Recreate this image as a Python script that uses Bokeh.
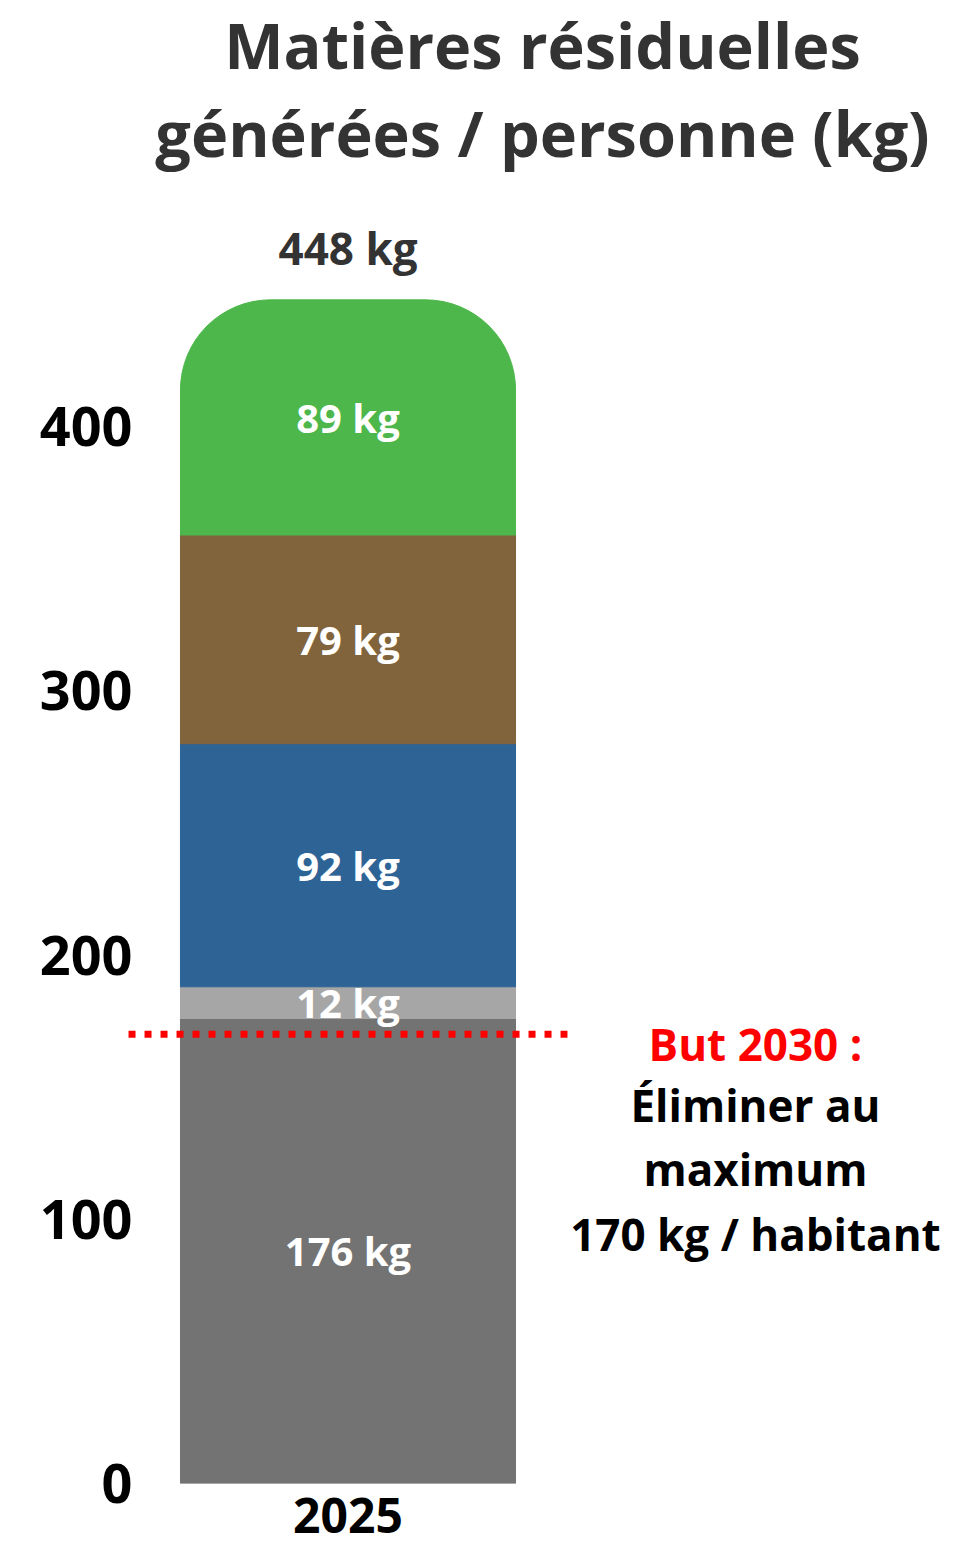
import numpy as np
from bokeh.plotting import figure
from bokeh.models import Range1d, FixedTicker, ColumnDataSource, Title
from bokeh.embed import file_html
from bokeh.resources import INLINE
from bokeh.core.properties import value

# ---- data ----
years = ["2025"]
categories = ["Ordures ménagères", "Encombrants", "Recyclage", "Matières organiques", "Résidus verts"]
values_kg = [176, 12, 92, 79, 89]
colors = ["#737373", "#a6a6a6", "#2e6396", "#82643c", "#4db74b"]
y_ticks = [0, 100, 200, 300, 400]
goal_kg = 170
goal_title = "But 2030 :"
goal_text = "Éliminer au\nmaximum\n170 kg / habitant"
title_lines = ["Matières résiduelles", "générées / personne (kg)"]

# ---- style ----
FONT = "Open Sans"
GOAL_HALF_SPAN = 0.655   # dotted line half length, in bar widths
NOTE_X = 1.216           # annotation centre, in bar widths from bar centre
Y_END = 494.3

tops = list(np.cumsum(values_kg))
bottoms = [t - v for t, v in zip(tops, values_kg)]
total = int(tops[-1])
labels = [f"{v} kg" for v in values_kg]
mids = [(b + t) / 2 for b, t in zip(bottoms, tops)]

src_low = ColumnDataSource(dict(x=[0] * 4, bottom=bottoms[:4], top=tops[:4], color=colors[:4]))
src_top = ColumnDataSource(dict(x=[0], bottom=bottoms[4:], top=tops[4:], color=colors[4:]))
src_lab = ColumnDataSource(dict(x=[0] * len(values_kg), y=mids, text=labels))

p = figure(width=964, height=1549, output_backend="svg", toolbar_location=None,
           x_range=Range1d(-0.679, 1.840), y_range=Range1d(0, Y_END),
           min_border_left=120, min_border_right=0, min_border_top=0, min_border_bottom=66,
           title_location=None)

p.vbar(x="x", bottom="bottom", top="top", width=1, color="color", source=src_low)
p.vbar(x="x", bottom="bottom", top="top", width=1, color="color", source=src_top,
       border_radius=(90, 90, 0, 0))

p.text(x="x", y="y", text="text", source=src_lab, text_color="white",
       text_font=value(FONT), text_font_style="bold", text_font_size="40px",
       text_align="center", text_baseline="middle")

p.text(x=[0], y=[total], text=[f"{total} kg"], y_offset=-52, text_color="#333333",
       text_font=value(FONT), text_font_style="bold", text_font_size="44px",
       text_align="center", text_baseline="middle")

p.line(x=[-GOAL_HALF_SPAN, GOAL_HALF_SPAN], y=[goal_kg, goal_kg], line_color="#ff0000",
       line_width=7, line_dash="7 9")

p.text(x=[NOTE_X], y=[goal_kg], text=[goal_title], y_offset=10, text_color="#ff0000",
       text_font=value(FONT), text_font_style="bold", text_font_size="44px",
       text_align="center", text_baseline="middle")
p.text(x=[NOTE_X], y=[goal_kg], text=[goal_text], y_offset=135, text_color="#000000",
       text_font=value(FONT), text_font_style="bold", text_font_size="44px",
       text_align="center", text_baseline="middle", text_line_height=1.07)

# title: second line closest to the frame, first line on top
p.add_layout(Title(text=title_lines[1], align="center", text_font=FONT, text_font_size="63px",
                   text_font_style="bold", text_color="#333333", standoff=5), "above")
p.add_layout(Title(text=title_lines[0], align="center", text_font=FONT, text_font_size="63px",
                   text_font_style="bold", text_color="#333333", standoff=-2), "above")

p.yaxis.ticker = FixedTicker(ticks=y_ticks)
p.yaxis.axis_line_color = None
p.yaxis.major_tick_line_color = None
p.yaxis.minor_tick_line_color = None
p.yaxis.major_label_text_font = FONT
p.yaxis.major_label_text_font_style = "bold"
p.yaxis.major_label_text_font_size = "54px"
p.yaxis.major_label_text_color = "#000000"
p.yaxis.major_label_standoff = -18

p.xaxis.ticker = FixedTicker(ticks=[0])
p.xaxis.major_label_overrides = {0: years[0]}
p.xaxis.axis_line_color = None
p.xaxis.major_tick_line_color = None
p.xaxis.minor_tick_line_color = None
p.xaxis.major_label_text_font = FONT
p.xaxis.major_label_text_font_style = "bold"
p.xaxis.major_label_text_font_size = "48px"
p.xaxis.major_label_text_color = "#000000"
p.xaxis.major_label_standoff = 8

p.xgrid.visible = False
p.ygrid.visible = False
p.outline_line_color = None
p.background_fill_color = "white"
p.border_fill_color = "white"

open("out.html", "w").write(file_html(p, INLINE))
